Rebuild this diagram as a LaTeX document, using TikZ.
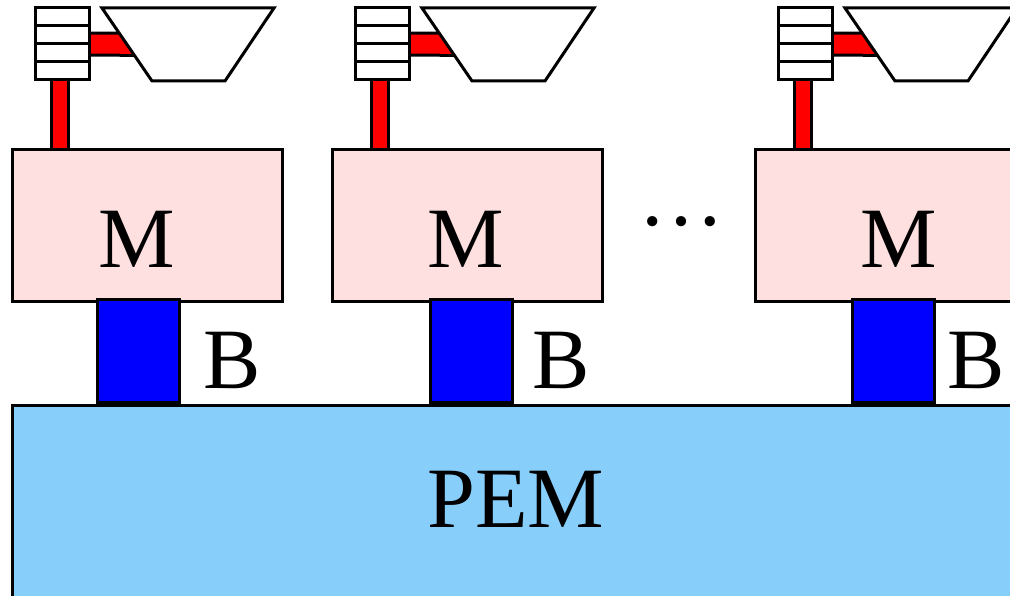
\documentclass[tikz,border=0pt]{standalone}
\usepackage{fontspec}
\setmainfont{Liberation Serif}
\usetikzlibrary{positioning,backgrounds}
\definecolor{mpink}{RGB}{255,224,224}
\definecolor{pemblue}{RGB}{135,206,250}

\tikzset{
every node/.style={inner sep=0pt, outer sep=0pt},
modbox/.style={draw, fill=mpink, line width=3pt, minimum width=270, minimum height=152, anchor=north west},
bbox/.style={draw, fill=blue, line width=3pt, minimum width=82, minimum height=102, anchor=north west},
cell/.style={draw, fill=white, line width=3pt, minimum width=54, minimum height=18, anchor=north west},
lbl/.style={font=\fontsize{86}{90}\selectfont},
redbar/.style={draw=red, line width=#1, preaction={draw=black, line width=#1+6pt}},
hopper/.style={draw, fill=white, line width=3pt, line join=miter}
}

\begin{document}
\begin{tikzpicture}[x=1pt,y=-1pt]
\useasboundingbox (0,0) rectangle (1010,596);

% PEM
\node[draw, fill=pemblue, line width=3pt, minimum width=1030, minimum height=200, anchor=north west] (P) at (12,405) {};
\node[lbl, anchor=base] (Pt) at (516,527) {PEM};

% module 1
\node[modbox] (M1) at (12,150) {};
\node[lbl, anchor=base] (M1t) at (136.5,268) {M};
\node[bbox] (B1) at (97,300) {};
\node[lbl, anchor=base west] (B1t) at (203,388) {B};
\node[cell] (R1a) at (35,8) {};
\node[cell] (R1b) at (35,26) {};
\node[cell] (R1c) at (35,44) {};
\node[cell] (R1d) at (35,62) {};
\coordinate (h1) at (150,44.5);
\begin{pgfonlayer}{background}
\draw[redbar=14pt] ([xshift=-2pt]R1d.south) -- ([xshift=-2pt]R1d.south |- M1.north);
\draw[redbar=19pt] (R1b.south east) -- (h1);
\end{pgfonlayer}
\draw[hopper] (102,8) -- (274,8) -- (225,81) -- (152,81) -- cycle;

% module 2
\node[modbox] (M2) at (332,150) {};
\node[lbl, anchor=base] (M2t) at (465.5,268) {M};
\node[bbox] (B2) at (430,300) {};
\node[lbl, anchor=base west] (B2t) at (532,388) {B};
\node[cell] (R2a) at (355,8) {};
\node[cell] (R2b) at (355,26) {};
\node[cell] (R2c) at (355,44) {};
\node[cell] (R2d) at (355,62) {};
\coordinate (h2) at (470,44.5);
\begin{pgfonlayer}{background}
\draw[redbar=14pt] ([xshift=-2pt]R2d.south) -- ([xshift=-2pt]R2d.south |- M2.north);
\draw[redbar=19pt] (R2b.south east) -- (h2);
\end{pgfonlayer}
\draw[hopper] (422,8) -- (594,8) -- (545,81) -- (472,81) -- cycle;

\node[lbl, anchor=base] (dots) at (681,226) {…};

% module 3
\node[modbox] (M3) at (755,150) {};
\node[lbl, anchor=base] (M3t) at (898.5,268) {M};
\node[bbox] (B3) at (852,300) {};
\node[lbl, anchor=base west] (B3t) at (947,388) {B};
\node[cell] (R3a) at (778,8) {};
\node[cell] (R3b) at (778,26) {};
\node[cell] (R3c) at (778,44) {};
\node[cell] (R3d) at (778,62) {};
\coordinate (h3) at (893,44.5);
\begin{pgfonlayer}{background}
\draw[redbar=14pt] ([xshift=-2pt]R3d.south) -- ([xshift=-2pt]R3d.south |- M3.north);
\draw[redbar=19pt] (R3b.south east) -- (h3);
\end{pgfonlayer}
\draw[hopper] (845,8) -- (1017,8) -- (968,81) -- (895,81) -- cycle;
\end{tikzpicture}
\end{document}
